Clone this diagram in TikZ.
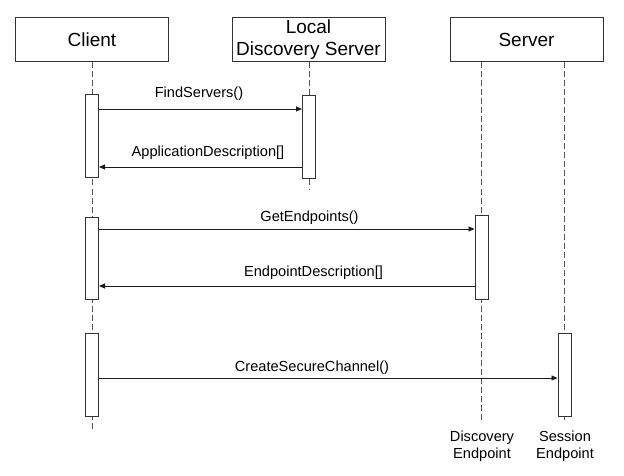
\documentclass[tikz,border=0pt]{standalone}
\usepackage{fontspec}
\setmainfont{Liberation Sans}
\usetikzlibrary{arrows.meta}
\definecolor{boxc}{HTML}{333333}
\definecolor{lifec}{HTML}{555555}
\definecolor{msgc}{HTML}{1A1A1A}
\begin{document}
\begin{tikzpicture}[x=1pt,y=-1pt,
  head/.style={draw=boxc, line width=1pt, minimum width=153pt, minimum height=44pt, inner sep=0pt, font=\fontsize{19}{22}\selectfont, align=center},
  act/.style={draw=boxc, fill=white, line width=1pt, minimum width=13pt, inner sep=0pt},
  life/.style={draw=lifec, line width=0.9pt, dash pattern=on 6pt off 3pt},
  msg/.style={draw=msgc, line width=0.9pt, -{Triangle[length=6pt,width=5pt]}},
  lbl/.style={font=\fontsize{14.6}{17}\selectfont, inner sep=0pt, align=center},
]
\useasboundingbox (0,0) rectangle (624,476);

% headers
\node[head] (client) at (92,40) {Client};
\node[head] (lds) at (308.5,40) {Local\\Discovery Server};
\node[head] (server) at (526.5,40) {Server};

% lifeline ends
\coordinate (cend) at (92,429);
\coordinate (lend) at (309,190);
\coordinate (dend) at (481,422);
\coordinate (send) at (564.5,422);

\draw[life] (client.south) -- (cend);
\draw[life] (lend |- lds.south) -- (lend);
\draw[life] (dend |- server.south) -- (dend);
\draw[life] (send |- server.south) -- (send);

% activation boxes
\node[act, minimum height=83pt] (ca1) at (92,136.5) {};
\node[act, minimum height=83pt] (la1) at (309,137.5) {};
\node[act, minimum height=82pt] (ca2) at (92,258) {};
\node[act, minimum height=84pt] (sa1) at (481.5,257) {};
\node[act, minimum height=83pt] (ca3) at (92,374.5) {};
\node[act, minimum height=83pt] (sa2) at (564.5,374.5) {};

% message heights
\coordinate (m1) at (0,109);
\coordinate (m2) at (0,167);
\coordinate (m3) at (0,229);
\coordinate (m4) at (0,286);
\coordinate (m5) at (0,378);

\draw[msg] (ca1.east |- m1) -- (la1.west |- m1);
\draw[msg] (la1.west |- m2) -- (ca1.east |- m2);
\draw[msg] (ca2.east |- m3) -- (sa1.west |- m3);
\draw[msg] (sa1.west |- m4) -- (ca2.east |- m4);
\draw[msg] (ca3.east |- m5) -- (sa2.west |- m5);

% message labels
\node[lbl] (l1) at (199,94) {FindServers()};
\node[lbl] (l2) at (208,153) {ApplicationDescription[]};
\node[lbl] (l3) at (309.5,218) {GetEndpoints()};
\node[lbl] (l4) at (313.5,273) {EndpointDescription[]};
\node[lbl] (l5) at (312,368) {CreateSecureChannel()};

% endpoint labels
\node[lbl] (dlab) at (482,446) {Discovery\\Endpoint};
\node[lbl] (slab) at (565,446) {Session\\Endpoint};
\end{tikzpicture}
\end{document}
